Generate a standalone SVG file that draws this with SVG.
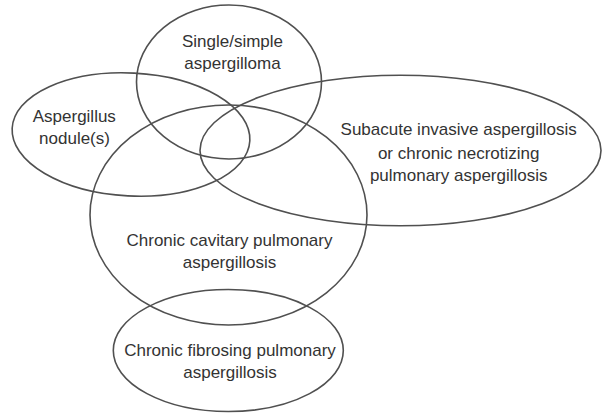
<svg xmlns="http://www.w3.org/2000/svg" width="603" height="413" viewBox="0 0 603 413">
<style>
.e{fill:none;stroke:#505050;stroke-width:1.6}
.t{font-family:"Liberation Sans",Arial,sans-serif;font-size:17px;fill:#333;text-anchor:middle}
</style>
<rect width="603" height="413" fill="#fff"/>
<g id="single"><ellipse class="e" cx="229" cy="82" rx="92.5" ry="77"/>
<text class="t" x="232.5" y="46.5">Single/simple</text><text class="t" x="232.5" y="68.5">aspergilloma</text></g>
<g id="nodule"><ellipse class="e" cx="131" cy="134.5" rx="119" ry="61.5" transform="rotate(3 131 134.5)"/>
<text class="t" x="74.3" y="122.3">Aspergillus</text><text class="t" x="74.5" y="144">nodule(s)</text></g>
<g id="subacute"><ellipse class="e" cx="400.5" cy="150.5" rx="200.5" ry="75.3"/>
<text class="t" x="458.7" y="134.5">Subacute invasive aspergillosis</text><text class="t" x="458.7" y="158.5">or chronic necrotizing</text><text class="t" x="458.7" y="181">pulmonary aspergillosis</text></g>
<g id="ccpa"><ellipse class="e" cx="228.5" cy="215" rx="138.5" ry="110"/>
<text class="t" x="229.5" y="245.7">Chronic cavitary pulmonary</text><text class="t" x="229.5" y="267.7">aspergillosis</text></g>
<g id="cfpa"><ellipse class="e" cx="228.3" cy="350.5" rx="115" ry="61"/>
<text class="t" x="230" y="356">Chronic fibrosing pulmonary</text><text class="t" x="230" y="378.3">aspergillosis</text></g>
<g id="connectors"></g>
</svg>
